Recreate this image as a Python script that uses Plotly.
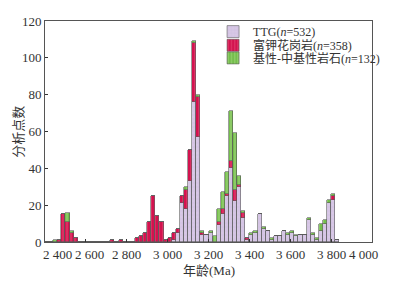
import plotly.graph_objects as go

# ---------------- data (20 Ma bins, left edges) ----------------
ages = [2400, 2420, 2440, 2460, 2480, 2500, 2520, 2540, 2560, 2580,
        2600, 2620, 2640, 2660, 2680, 2700, 2720, 2740, 2760, 2780,
        2800, 2820, 2840, 2860, 2880, 2900, 2920, 2940, 2960, 2980,
        3000, 3020, 3040, 3060, 3080, 3100, 3120, 3140, 3160, 3180,
        3200, 3220, 3240, 3260, 3280, 3300, 3320, 3340, 3360, 3380,
        3400, 3420, 3440, 3460, 3480, 3500, 3520, 3540, 3560, 3580,
        3600, 3620, 3640, 3660, 3680, 3700, 3720, 3740, 3760, 3780,
        3800, 3820]

ttg = [0, 0, 0, 0, 0, 0, 0, 0, 0, 0,
       0, 0, 0, 0, 0, 0, 0, 0, 0, 0,
       0, 0, 0, 0, 0, 0, 0, 0, 0, 0,
       0, 1, 5, 21, 18, 33, 76, 57, 4, 4,
       5, 0, 9, 15, 25, 40, 22, 30, 13, 1,
       4, 5, 15, 7, 6, 1, 3, 3, 6, 4,
       5, 3, 4, 4, 12, 4, 1, 6, 10, 21,
       23, 1]

k_granite = [0, 0, 0, 1, 15, 11, 5, 2, 0, 0,
             0, 0, 0, 0, 0, 0, 1, 0, 1, 0,
             0, 0, 2, 3, 5, 11, 25, 14, 11, 1,
             2, 4, 2, 4, 10, 17, 32, 22, 1, 0,
             0, 0, 2, 3, 1, 4, 6, 1, 3, 1,
             0, 0, 0, 0, 0, 0, 0, 0, 0, 0,
             0, 0, 0, 0, 0, 0, 0, 0, 0, 0,
             2, 0]

mafic = [0, 0, 1, 0, 0, 5, 1, 0, 0, 0,
         0, 0, 0, 0, 0, 0, 0, 0, 0, 0,
         0, 0, 0, 0, 0, 0, 0, 0, 0, 0,
         0, 0, 0, 0, 2, 0, 1, 1, 1, 0,
         1, 3, 7, 9, 12, 27, 31, 5, 1, 0,
         1, 1, 0, 1, 0, 1, 0, 0, 0, 1,
         1, 1, 0, 0, 1, 1, 1, 4, 2, 2,
         1, 0]

bin_width = 20
series_names = ["TTG(<i>n</i>=532)", "富钾花岗岩(<i>n</i>=358)", "基性-中基性岩石(<i>n</i>=132)"]

x_ticks = [2400, 2600, 2800, 3000, 3200, 3400, 3600, 3800, 4000]
x_tick_text = ["2 400", "2 600", "2 800", "3 000", "3 200", "3 400", "3 600", "3 800", "4 000"]
y_ticks = [0, 20, 40, 60, 80, 100, 120]

# ---------------- figure ----------------
serif = "Liberation Serif, Noto Sans CJK SC"
cjk = "Noto Sans CJK SC"
centers = [a + bin_width / 2 for a in ages]
outline = dict(color="#5a5a5a", width=0.6)

fig = go.Figure()
fig.add_bar(x=centers, y=ttg, width=bin_width, name=series_names[0], legend="legend",
            marker=dict(color="#d8c8e6", line=outline,
                        pattern=dict(shape="+", bgcolor="#d8c8e6", fgcolor="#ad9cc4",
                                     size=4, solidity=0.12)))
fig.add_bar(x=centers, y=k_granite, width=bin_width, name=series_names[1], legend="legend2",
            marker=dict(color="#d3124f", line=outline,
                        pattern=dict(shape="|", bgcolor="#d3124f", fgcolor="#f06c8c",
                                     size=4, solidity=0.3)))
fig.add_bar(x=centers, y=mafic, width=bin_width, name=series_names[2], legend="legend3",
            marker=dict(color="#74be4c", line=outline,
                        pattern=dict(shape="|", bgcolor="#74be4c", fgcolor="#c2e6a0",
                                     size=4, solidity=0.3)))

legend_style = dict(x=0.514, xanchor="left", yanchor="middle",
                    bgcolor="rgba(0,0,0,0)",
                    font=dict(family=serif, size=12, color="#333333"))

# The page body has an 8px default margin, so the figure is sized to fit the window.
fig.update_layout(
    width=391, height=274,
    margin=dict(l=37, r=27, t=6, b=40),
    barmode="stack", bargap=0,
    paper_bgcolor="white", plot_bgcolor="white",
    font=dict(family=serif, size=13, color="#333333"),
    showlegend=True,
    legend=dict(y=0.952, **legend_style),
    legend2=dict(y=0.890, **legend_style),
    legend3=dict(y=0.833, **legend_style),
)

fig.update_xaxes(range=[2400, 4000], showgrid=False, zeroline=False,
                 showline=True, linecolor="#555555", linewidth=1, mirror=True,
                 tickvals=x_ticks, ticks="inside", ticklen=3, tickcolor="#333333",
                 showticklabels=False)
fig.update_yaxes(range=[0, 120], showgrid=False, zeroline=False,
                 showline=True, linecolor="#555555", linewidth=1, mirror=True,
                 tickvals=y_ticks, ticks="inside", ticklen=3, tickcolor="#333333",
                 tickfont=dict(family=serif, size=13, color="#333333"))

# x tick labels (ends nudged inward as in the original typesetting)
label_nudge = [12, 4, 0, 0, 0, 0, 0, 0, -9]
for v, t, dx in zip(x_ticks, x_tick_text, label_nudge):
    fig.add_annotation(x=v, y=0, xref="x", yref="paper", text=t, showarrow=False,
                       xanchor="center", yanchor="top", yshift=-3, xshift=dx,
                       font=dict(family=serif, size=13, color="#333333"))

# axis titles
fig.add_annotation(x=0.5, y=0, xref="paper", yref="paper", text="年龄(Ma)",
                   showarrow=False, xanchor="center", yanchor="top", yshift=-19,
                   font=dict(family=serif, size=13, color="#333333"))
fig.add_annotation(x=-0.085, y=0.5, xref="paper", yref="paper", text="分析点数",
                   showarrow=False, textangle=-90, xanchor="center", yanchor="middle",
                   font=dict(family=cjk, size=13, color="#333333"))

fig.write_html("out.html")
